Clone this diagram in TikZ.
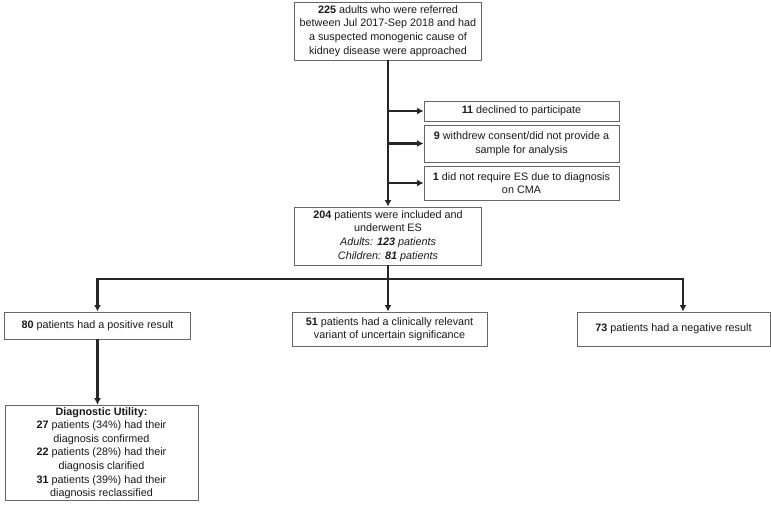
\documentclass[tikz,border=0pt]{standalone}
\usepackage{fontspec}
\setmainfont{Liberation Sans}
\usepackage{xcolor}
\usepackage{tikz}
\usetikzlibrary{arrows.meta, positioning}

\begin{document}
\begin{tikzpicture}[x=1pt,y=-1pt]
\tikzstyle{box}=[draw=black!60,line width=0.9pt,align=center,inner sep=2pt,font=\fontsize{10.8}{13.6}\selectfont,text=black!90]
\tikzstyle{link}=[line width=2.2pt,draw=black!85,-{Latex[length=6.5pt,width=7pt]}]
\tikzstyle{line}=[line width=2.2pt,draw=black!85]
\useasboundingbox (0,0) rectangle (771,504);

% Screening
\node[box,minimum width=187pt,minimum height=58pt] (screen) at (388,31)
  {\textbf{225} adults who were referred\\between Jul 2017-Sep 2018 and had\\a suspected monogenic cause of\\kidney disease were approached};
% Exclusions
\node[box,minimum width=195pt,minimum height=20pt] (excl1) at (521.5,111)
  {\textbf{11} declined to participate};
\node[box,minimum width=195pt,minimum height=37pt] (excl2) at (521.5,143.5)
  {\textbf{9} withdrew consent/did not provide a\\sample for analysis};
\node[box,minimum width=195pt,minimum height=34pt] (excl3) at (521.5,183)
  {\textbf{1} did not require ES due to diagnosis\\on CMA};
% Included
\node[box,minimum width=187pt,minimum height=58pt] (incl) at (388,236)
  {\textbf{204} patients were included and\\underwent ES\\\textit{Adults: \textbf{123} patients}\\\textit{Children: \textbf{81} patients}};
% Results
\node[box,minimum width=186pt,minimum height=27pt] (pos) at (97.5,325.5)
  {\textbf{80} patients had a positive result};
\node[box,minimum width=195pt,minimum height=34pt] (vus) at (389.5,329)
  {\textbf{51} patients had a clinically relevant\\variant of uncertain significance};
\node[box,minimum width=193pt,minimum height=34pt] (neg) at (673.5,329)
  {\textbf{73} patients had a negative result};
% Utility
\node[box,minimum width=193pt,minimum height=94pt] (util) at (101.5,453)
  {\textbf{Diagnostic Utility:}\\\textbf{27} patients (34\%) had their\\diagnosis confirmed\\\textbf{22} patients (28\%) had their\\diagnosis clarified\\\textbf{31} patients (39\%) had their\\diagnosis reclassified};

\coordinate (split) at (388,279);

\draw[link] (screen) -- (incl);
\draw[link] (screen.south |- excl1.west) -- (excl1.west);
\draw[link] (screen.south |- excl2.west) -- (excl2.west);
\draw[link] (screen.south |- excl3.west) -- (excl3.west);
\draw[line] (incl) -- (split);
\draw[link] (split) -| (pos.north);
\draw[link] (split) -- (split |- vus.north);
\draw[link] (split) -| ([xshift=9.5pt]neg.north);
\draw[link] (pos) -- (pos.south |- util.north);

\end{tikzpicture}
\end{document}
